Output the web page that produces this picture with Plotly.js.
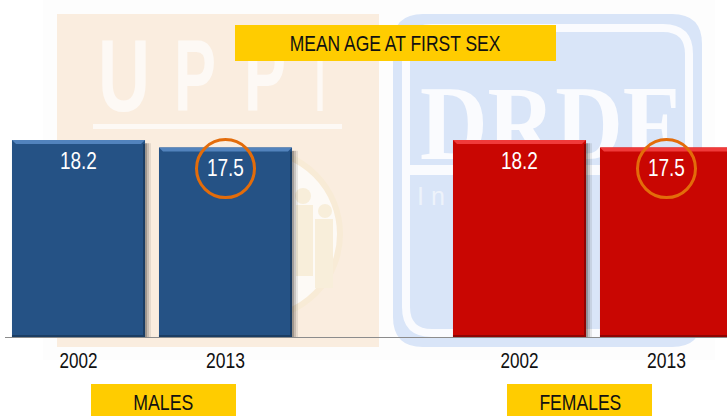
<!DOCTYPE html>
<html><head><meta charset="utf-8">
<script src="https://cdn.plot.ly/plotly-3.0.1.min.js"></script>
<style>html,body{margin:0;padding:0;background:#fff;overflow:hidden}</style></head>
<body><div id="chart" style="width:727px;height:416px"></div>
<script>
var slots = [0, 1, 3, 4];
var yearLabels = ['2002', '2013', '2002', '2013'];
var ages = [18.2, 17.5, 18.2, 17.5];
var barColors = ['#255285', '#255285', '#c90602', '#c90602'];
var bevelColors = ['#5283bd', '#5283bd', '#f03a3a', '#f03a3a'];
var edgeColors = ['#1b3d63', '#1b3d63', '#8f0402', '#8f0402'];
var circled = [1, 4];
var titleText = 'MEAN AGE AT FIRST SEX';
var groupLabels = ['MALES', 'FEMALES'];

var FONT = '"Liberation Sans",Arial,sans-serif';
var TEXT = '#111111';
var W = 727, H = 416, L = 5, B = 79;
var halfBar = 0.4525, pxPerUnit = 197 / 18.2, yMax = 337 / pxPerUnit, unitsX = 147;

// page pixels -> paper fractions (margins are 0, so paper is the whole page)
function fx(x) { return x / W; }
function fy(y) { return 1 - y / H; }
function rectPx(x0, y0, x1, y1, fill) {
  return {type:'rect', xref:'paper', yref:'paper', layer:'below', x0:fx(x0), x1:fx(x1), y0:fy(y0), y1:fy(y1), fillcolor:fill, line:{width:0}};
}
function circlePx(cx, cy, r, fill, line) {
  return {type:'circle', xref:'paper', yref:'paper', layer:'below', x0:fx(cx-r), x1:fx(cx+r), y0:fy(cy-r), y1:fy(cy+r), fillcolor:fill, line:line||{width:0}};
}
function roundedPx(x0, y0, x1, y1, r, fill, line) {
  function p(x, y) { return fx(x) + ',' + fy(y); }
  var d = 'M' + p(x0+r, y0) + ' L' + p(x1-r, y0) + ' Q' + p(x1, y0) + ' ' + p(x1, y0+r) +
    ' L' + p(x1, y1-r) + ' Q' + p(x1, y1) + ' ' + p(x1-r, y1) + ' L' + p(x0+r, y1) +
    ' Q' + p(x0, y1) + ' ' + p(x0, y1-r) + ' L' + p(x0, y0+r) + ' Q' + p(x0, y0) + ' ' + p(x0+r, y0) + ' Z';
  return {type:'path', xref:'paper', yref:'paper', layer:'below', path:d, fillcolor:fill, line:line||{width:0}};
}
// watermark text lives in a shape label, so it stays behind the bars and label boxes
function wmark(t, cx, cy, size, color, family) {
  var s = rectPx(cx-60, cy-60, cx+60, cy+60, 'rgba(0,0,0,0)');
  s.label = {text:t, textposition:'middle center', font:{family:family, size:size, color:color}};
  return s;
}

var shapes = [
  rectPx(43, 0, 715, 360, '#fdfdfd'),
  rectPx(57, 14, 379, 347, '#faeddf'),
  rectPx(93, 124, 342, 129, '#fdf9f5'),
  wmark('<b>U</b>', 124, 66, 102, '#fdf9f5', FONT),
  wmark('<b>P</b>', 195, 66, 102, '#fdf9f5', FONT),
  wmark('<b>P</b>', 265, 66, 102, '#fdf9f5', FONT),
  wmark('<b>I</b>', 320, 66, 102, '#fdf9f5', FONT),
  // emblem
  circlePx(256, 234, 84, '#fdfaf6', {color:'#f8ebd6', width:6}),
  circlePx(303, 196, 8, '#f8eeda'),
  rectPx(296, 205, 313, 276, '#f8eeda'),
  circlePx(325, 211, 7, '#f8eeda'),
  rectPx(315, 219, 333, 288, '#f8eeda'),
  // DRDF panel
  roundedPx(393, 14, 702, 347, 30, '#d9e5f8'),
  roundedPx(406, 28, 689, 333, 26, 'rgba(0,0,0,0)', {color:'#fafbfe', width:8}),
  rectPx(406, 165, 689, 175, '#fafbfe'),
  wmark('<b>DRDF</b>', 550, 113, 105, '#fafbfe', '"Liberation Serif",serif'),
  wmark('I n', 431, 194, 25, '#eef3fb', FONT),
  // label boxes
  rectPx(235, 25, 556, 61, '#ffcc00'),
  rectPx(91, 384, 236, 416, '#ffcc00'),
  rectPx(507, 384, 652, 416, '#ffcc00')
];

// bar decoration derived from the data
slots.forEach(function (s, i) {
  var v = ages[i], x0 = s - halfBar, x1 = s + halfBar;
  var dx = 4 / unitsX, dy = 4 / pxPerUnit;
  [[0, 2, 0.45], [2, 4, 0.25], [4, 6, 0.1]].forEach(function (d) {
    shapes.push({type:'rect', xref:'x', yref:'y', layer:'below', x0:x1 + d[0]/unitsX, x1:x1 + d[1]/unitsX,
      y0:0, y1:v - 0.3, fillcolor:'rgba(50,45,40,' + d[2] + ')', line:{width:0}});
  });
  shapes.push({type:'path', xref:'x', yref:'y', layer:'above', fillcolor:bevelColors[i], line:{width:0},
    path:'M'+x0+','+v+' L'+x1+','+v+' L'+(x1-dx)+','+(v-dy)+' L'+(x0+dx)+','+(v-dy)+' Z'});
  shapes.push({type:'rect', xref:'x', yref:'y', layer:'above', x0:x1-2/unitsX, x1:x1, y0:0, y1:v-dy, fillcolor:edgeColors[i], line:{width:0}});
  shapes.push({type:'rect', xref:'x', yref:'y', layer:'above', x0:x0, x1:x1, y0:0, y1:2/pxPerUnit, fillcolor:edgeColors[i], line:{width:0}});
});
circled.forEach(function (s) {
  shapes.push({type:'circle', xref:'x', yref:'y', layer:'above', xsizemode:'pixel', ysizemode:'pixel',
    xanchor:s, yanchor:ages[slots.indexOf(s)], x0:-29, x1:29, y0:-50, y1:8, fillcolor:'rgba(0,0,0,0)', line:{color:'#e36c0a', width:3}});
});

var annotations = [];
function deco(t, xp, yp, size, color, family) {
  annotations.push({xref:'paper', yref:'paper', x:fx(xp), y:fy(yp), xanchor:'center', yanchor:'middle', showarrow:false,
    text:t, font:{family:family, size:size, color:color}});
}
slots.forEach(function (s, i) {
  annotations.push({xref:'x', yref:'y', x:s, y:ages[i], yshift:-20.5, xanchor:'center', yanchor:'middle', showarrow:false,
    text:ages[i].toFixed(1), font:{family:FONT, size:23, color:'#ffffff'}});
});
deco(groupLabels[0], 163, 402, 22, TEXT, FONT);
deco(groupLabels[1], 580, 402, 22, TEXT, FONT);

var data = [{type:'bar', x:slots, y:ages, width:halfBar*2, marker:{color:barColors, line:{width:0}}, hoverinfo:'x+y', showlegend:false}];

var layout = {
  width:W, height:H, autosize:false, showlegend:false,
  margin:{l:0, r:0, t:0, b:0, pad:0},
  paper_bgcolor:'#ffffff', plot_bgcolor:'rgba(0,0,0,0)',
  title:{text:titleText, x:fx(395), xref:'paper', xanchor:'center', y:fy(43), yref:'paper', yanchor:'middle',
         font:{family:FONT, size:22, color:TEXT}},
  xaxis:{domain:[L/W, 1], range:[-0.5, -0.5 + (W-L)/unitsX], tickmode:'array', tickvals:slots, ticktext:yearLabels,
         showgrid:false, zeroline:false, showline:false, ticks:'', automargin:false, fixedrange:true, ticklabelstandoff:8,
         tickfont:{family:FONT, size:22, color:TEXT}},
  yaxis:{domain:[B/H, 1], range:[0, yMax], showticklabels:false, showgrid:false, zeroline:true, zerolinecolor:'#8c8c8c', zerolinewidth:1,
         ticks:'', automargin:false, fixedrange:true},
  shapes:shapes, annotations:annotations
};

// the reference's text is a condensed face: squeeze each label to its measured width
var textWidths = {'MEAN AGE AT FIRST SEX':211, '2002':38, '2013':39, '18.2':37, '17.5':37,
                  'MALES':60, 'FEMALES':82, 'U':52, 'P':42, 'I':10, 'DRDF':260};
Plotly.newPlot('chart', data, layout, {displayModeBar:false, staticPlot:true}).then(function (gd) {
  gd.querySelectorAll('svg text').forEach(function (t) {
    var target = textWidths[t.textContent];
    if (!target) return;
    var b = t.getBBox();
    if (!b.width) return;
    var cx = b.x + b.width / 2, k = target / b.width;
    var old = t.getAttribute('transform') || '';
    t.setAttribute('transform', old + ' translate(' + cx + ',0) scale(' + k + ',1) translate(' + (-cx) + ',0)');
  });
});
</script></body></html>
